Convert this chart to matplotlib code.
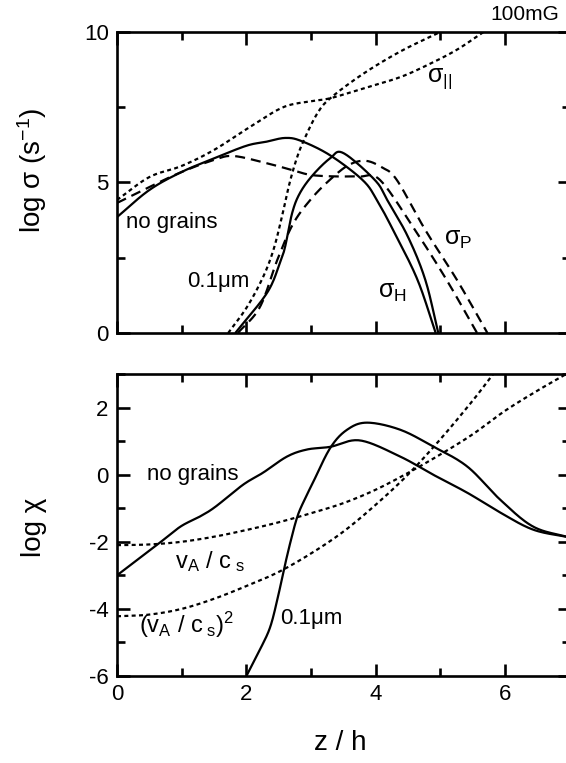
import matplotlib
matplotlib.use("Agg")
import matplotlib.pyplot as plt
from matplotlib.ticker import MultipleLocator
import numpy as np

plt.rcParams['font.family'] = ['Liberation Sans', 'DejaVu Sans']
plt.rcParams['mathtext.fontset'] = 'custom'
plt.rcParams['mathtext.rm'] = 'Liberation Sans'
plt.rcParams['mathtext.it'] = 'Liberation Sans:italic'
plt.rcParams['mathtext.sf'] = 'Liberation Sans'
plt.rcParams['axes.unicode_minus'] = False

# ---------------- data: top panel (log sigma) ----------------
# no grains
ng_sH_x = [0, 0.5, 1.0, 1.5, 2.0, 2.3, 2.6, 2.85, 3.3, 3.8, 4.02, 4.3, 4.65, 4.93]
ng_sH_y = [3.85, 4.75, 5.35, 5.8, 6.22, 6.35, 6.48, 6.38, 5.9, 5.08, 4.42, 3.3, 1.76, 0]
ng_sP_x = [0, 0.5, 1.0, 1.5, 1.8, 2.3, 2.7, 3.0, 3.4, 3.75, 4.07, 4.61, 5.1, 5.57]
ng_sP_y = [4.32, 4.85, 5.35, 5.75, 5.88, 5.65, 5.42, 5.25, 5.2, 5.2, 5.08, 3.42, 1.76, 0]
ng_sPar_x = [0, 0.5, 1.0, 1.5, 2.06, 2.57, 3.0, 3.3, 3.85, 4.38, 4.8, 5.25, 5.67]
ng_sPar_y = [4.42, 5.18, 5.55, 6.08, 6.85, 7.5, 7.7, 7.8, 8.15, 8.5, 8.9, 9.4, 10.0]
# 0.1 micron grains
gr_sH_x = [1.83, 2.32, 2.52, 2.6, 2.71, 2.83, 3.03, 3.3, 3.5, 3.99, 4.18, 4.5, 4.77, 4.97]
gr_sH_y = [0, 1.33, 2.33, 2.86, 3.99, 4.65, 5.25, 5.81, 5.98, 5.08, 4.42, 3.2, 1.76, 0]
gr_sP_x = [1.87, 2.21, 2.48, 2.73, 3.03, 3.34, 3.6, 3.85, 4.1, 4.33, 4.77, 5.26, 5.73]
gr_sP_y = [0, 0.86, 2.43, 3.65, 4.52, 5.18, 5.6, 5.72, 5.5, 5.08, 3.42, 1.76, 0]
gr_sPar_x = [1.72, 2.01, 2.26, 2.42, 2.55, 2.66, 2.78, 2.9, 3.1, 3.3, 3.8, 4.38, 5.0]
gr_sPar_y = [0, 0.86, 1.86, 2.76, 3.85, 4.9, 5.8, 6.45, 7.3, 7.8, 8.6, 9.35, 10.0]

# ---------------- data: bottom panel (log chi) ----------------
ng_chi_x = [0, 0.62, 0.98, 1.28, 1.52, 1.95, 2.26, 2.63, 2.94, 3.3, 3.76, 4.38, 4.89, 5.42, 5.93, 6.44, 7.0]
ng_chi_y = [-3.0, -2.09, -1.55, -1.25, -0.96, -0.3, 0.06, 0.54, 0.75, 0.83, 1.02, 0.54, 0.0, -0.54, -1.13, -1.64, -1.87]
gr_chi_x = [2.01, 2.21, 2.37, 2.49, 2.57, 2.68, 2.79, 2.9, 3.03, 3.3, 3.56, 3.87, 4.38, 4.89, 5.42, 5.93, 6.44, 7.0]
gr_chi_y = [-5.97, -5.22, -4.54, -3.64, -2.93, -2.03, -1.25, -0.75, -0.24, 0.8, 1.34, 1.55, 1.34, 0.84, 0.24, -0.75, -1.55, -1.87]
vA_x = [0, 0.5, 1.0, 1.5, 2.0, 2.5, 3.0, 3.5, 4.0, 4.5, 5.0, 5.5, 6.0, 6.5, 6.95]
vA_y = [-2.1, -2.08, -2.0, -1.85, -1.65, -1.42, -1.15, -0.85, -0.45, 0.05, 0.6, 1.2, 1.9, 2.5, 3.0]
vA2_x = [0, 0.5, 1.0, 1.5, 2.0, 2.5, 3.0, 3.5, 4.0, 4.5, 5.0, 5.5, 5.82]
vA2_y = [-4.22, -4.17, -4.0, -3.7, -3.32, -2.9, -2.35, -1.7, -0.9, 0.0, 1.05, 2.2, 3.0]

W, H = 566, 763
fig = plt.figure(figsize=(W / 100, H / 100), dpi=100)

def frac(px_l, px_t, px_r, px_b):
    return [px_l / W, 1 - px_b / H, (px_r - px_l) / W, (px_b - px_t) / H]

ax1 = fig.add_axes(frac(117, 32, 569.5, 333))
ax2 = fig.add_axes(frac(117, 374, 569.5, 676))

LW = 1.6
SOLID = '-'
DASH = (0, (4.5, 2.7))
DOT = (0, (1.8, 1.5))

def smooth(x, y):
    x = np.asarray(x, float); y = np.asarray(y, float)
    pts = np.column_stack([x, y])
    out = []
    P = np.vstack([pts[0] * 2 - pts[1], pts, pts[-1] * 2 - pts[-2]])
    for i in range(1, len(P) - 2):
        p0, p1, p2, p3 = P[i - 1], P[i], P[i + 1], P[i + 2]
        t = np.linspace(0, 1, 20, endpoint=False)[:, None]
        seg = 0.5 * ((2 * p1) + (-p0 + p2) * t + (2 * p0 - 5 * p1 + 4 * p2 - p3) * t ** 2 + (-p0 + 3 * p1 - 3 * p2 + p3) * t ** 3)
        out.append(seg)
    out.append(pts[-1][None, :])
    out = np.vstack(out)
    return out[:, 0], out[:, 1]

def draw(ax, x, y, ls):
    sx, sy = smooth(x, y)
    ax.plot(sx, sy, color='black', lw=LW, linestyle=ls, solid_capstyle='butt', dash_capstyle='butt')

draw(ax1, ng_sH_x, ng_sH_y, SOLID)
draw(ax1, gr_sH_x, gr_sH_y, SOLID)
draw(ax1, ng_sP_x, ng_sP_y, DASH)
draw(ax1, gr_sP_x, gr_sP_y, DASH)
draw(ax1, ng_sPar_x, ng_sPar_y, DOT)
draw(ax1, gr_sPar_x, gr_sPar_y, DOT)

draw(ax2, ng_chi_x, ng_chi_y, SOLID)
draw(ax2, gr_chi_x, gr_chi_y, SOLID)
draw(ax2, vA_x, vA_y, DOT)
draw(ax2, vA2_x, vA2_y, DOT)

ax1.set_xlim(0, 7); ax1.set_ylim(0, 10)
ax2.set_xlim(0, 7); ax2.set_ylim(-6, 3)

TFS = 16
for ax in (ax1, ax2):
    ax.xaxis.set_major_locator(MultipleLocator(2))
    ax.xaxis.set_minor_locator(MultipleLocator(1))
    ax.tick_params(which='both', direction='in', top=True, right=True, width=1.9, labelsize=TFS, color='black')
    ax.tick_params(which='major', length=9, pad=6)
    ax.tick_params(which='minor', length=6)
    for s in ax.spines.values():
        s.set_linewidth(1.9)
ax1.yaxis.set_major_locator(MultipleLocator(5))
ax1.yaxis.set_minor_locator(MultipleLocator(2.5))
ax1.set_yticks([0, 5, 10])
ax1.tick_params(axis='x', labelbottom=False)
ax2.yaxis.set_major_locator(MultipleLocator(2))
ax2.yaxis.set_minor_locator(MultipleLocator(1))
ax2.set_xticks([0, 2, 4, 6])

AFS = 16
ax1.text(0.14, 3.49, 'no grains', fontsize=AFS, ha='left', va='baseline')
ax1.text(1.08, 1.54, '0.1\u03bcm', fontsize=AFS, ha='left', va='baseline')
ax1.text(4.04, 1.16, r'$\mathrm{σ_H}$', fontsize=AFS + 2, ha='left', va='baseline')
ax1.text(5.06, 2.92, r'$\mathrm{σ_P}$', fontsize=AFS + 2, ha='left', va='baseline')
ax1.text(4.8, 8.34, r'$\mathrm{σ_{||}}$', fontsize=AFS + 2, ha='left', va='baseline')

ax2.text(0.46, -0.17, 'no grains', fontsize=AFS, ha='left', va='baseline')
ax2.text(2.52, -4.45, '0.1\u03bcm', fontsize=AFS, ha='left', va='baseline')
ax2.text(0.9, -2.78, r'v$_\mathrm{A}$ / c$_\mathrm{\ s}$', fontsize=AFS + 1, ha='left', va='baseline')
ax2.text(0.34, -4.72, r'(v$_\mathrm{A}$ / c$_\mathrm{\ s}$)$^\mathrm{2}$', fontsize=AFS + 1, ha='left', va='baseline')

fig.text(525 / W, 1 - 15 / H, '100mG', fontsize=15, ha='center', va='center')

LFS = 20
fig.text(32 / W, 1 - 170 / H, r'log σ (s$^\mathrm{-1}$)', fontsize=LFS, rotation=90, ha='center', va='center')
fig.text(34 / W, 1 - 527 / H, 'log χ', fontsize=LFS, rotation=90, ha='center', va='center')
fig.text(340 / W, 1 - 743 / H, 'z / h', fontsize=LFS, ha='center', va='center')

fig.savefig('out.png', dpi=100)
